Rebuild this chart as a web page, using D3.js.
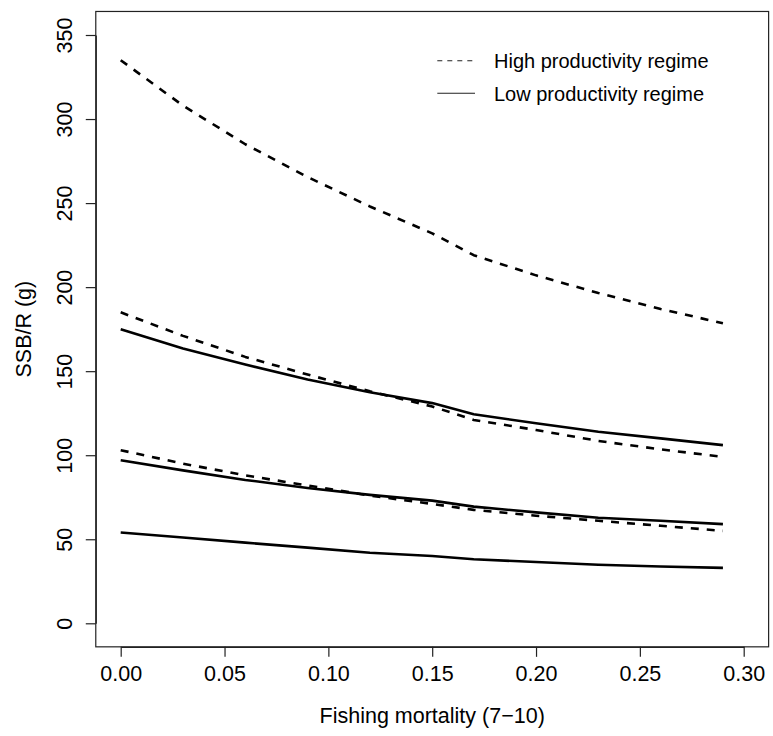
<!DOCTYPE html>
<html>
<head>
<meta charset="utf-8">
<script src="https://cdn.jsdelivr.net/npm/d3@7"></script>
<style>
  html, body { margin: 0; padding: 0; background: #fff; }
  svg { display: block; font-family: "Liberation Sans", Arial, Helvetica, sans-serif; }
</style>
</head>
<body>
<svg id="chart" width="773" height="736"></svg>
<script>
// ---- data ----
const fishingMortality = [0.00, 0.03, 0.06, 0.09, 0.12, 0.15, 0.17, 0.20, 0.23, 0.26, 0.29];
const highA = [335, 308, 285, 265.5, 248, 232, 219, 207, 196.5, 187, 178.5];
const highB = [185, 171, 158.5, 148, 138, 129, 121, 115, 108.5, 103.5, 99];
const highC = [103, 95, 88, 82, 76, 71, 67.5, 64, 61, 58, 55];
const lowA  = [175, 163.5, 154, 145, 137.5, 131, 124.4, 119, 114, 110, 106];
const lowB  = [97, 91, 85.3, 80.5, 76.4, 73, 69.4, 66, 62.8, 61, 59];
const lowC  = [54, 51, 48, 45, 42, 40, 38.1, 36.5, 34.8, 33.8, 33];
const xTicks = [0.00, 0.05, 0.10, 0.15, 0.20, 0.25, 0.30];
const yTicks = [0, 50, 100, 150, 200, 250, 300, 350];
const legendLabels = ["High productivity regime", "Low productivity regime"];
const xTitle = "Fishing mortality (7\u221210)";
const yTitle = "SSB/R (g)";

(function () {
const series = [
  { values: highA, type: "high" },
  { values: highB, type: "high" },
  { values: highC, type: "high" },
  { values: lowA, type: "low" },
  { values: lowB, type: "low" },
  { values: lowC, type: "low" }
];

// ---- scales ----
const x = d3.scaleLinear().domain([0, 0.30]).range([120.7, 743.7]);
const y = d3.scaleLinear().domain([0, 350]).range([623.3, 35]);
const xPad = 0.30 * 0.04, yPad = 350 * 0.04;
const boxL = x(-xPad), boxR = x(0.30 + xPad);
const boxT = y(350 + yPad), boxB = y(-yPad);

const svg = d3.select("#chart");
const ink = "#000";

// box
svg.append("rect")
  .attr("x", boxL).attr("y", boxT)
  .attr("width", boxR - boxL).attr("height", boxB - boxT)
  .attr("fill", "none").attr("stroke", "#222").attr("stroke-width", 1.2);

// x axis
const xAxis = d3.axisBottom(x).tickValues(xTicks).tickFormat(d3.format(".2f"))
  .tickSize(10).tickSizeOuter(0).tickPadding(9);
const gx = svg.append("g").attr("transform", `translate(0,${boxB})`).call(xAxis);
gx.select(".domain").attr("stroke", "#222").attr("stroke-width", 1.2);
gx.selectAll(".tick line").attr("stroke", "#222").attr("stroke-width", 1.2);
gx.selectAll(".tick text").attr("font-size", 21.5).attr("fill", ink)
  .attr("font-family", "Liberation Sans, Arial, sans-serif");

// y axis
const yAxis = d3.axisLeft(y).tickValues(yTicks).tickFormat(d3.format("d"))
  .tickSize(10).tickSizeOuter(0);
const gy = svg.append("g").attr("transform", `translate(${boxL},0)`).call(yAxis);
gy.select(".domain").attr("stroke", "#222").attr("stroke-width", 1.2);
gy.selectAll(".tick line").attr("stroke", "#222").attr("stroke-width", 1.2);
gy.selectAll(".tick text")
  .attr("font-size", 21.5).attr("fill", ink)
  .attr("font-family", "Liberation Sans, Arial, sans-serif")
  .attr("x", null).attr("dy", null)
  .attr("text-anchor", "middle")
  .attr("transform", `translate(${72 - boxL},0) rotate(-90)`);

// axis titles
svg.append("text")
  .attr("x", (boxL + boxR) / 2).attr("y", 723)
  .attr("text-anchor", "middle").attr("font-size", 21.5).attr("fill", ink)
  .text(xTitle);
svg.append("text")
  .attr("transform", `translate(31,${(boxT + boxB) / 2}) rotate(-90)`)
  .attr("text-anchor", "middle").attr("font-size", 21.5).attr("fill", ink)
  .text(yTitle);

// lines
const line = d3.line()
  .x((d, i) => x(fishingMortality[i]))
  .y(d => y(d));

series.forEach(s => {
  svg.append("path")
    .datum(s.values)
    .attr("d", line)
    .attr("fill", "none")
    .attr("stroke", ink)
    .attr("stroke-width", 2.6)
    .attr("stroke-dasharray", s.type === "high" ? "8,8" : null)
    .attr("stroke-linejoin", "round");
});

// legend
const legendRows = [
  { label: legendLabels[0], dash: "5,5", y: 60.7 },
  { label: legendLabels[1], dash: null, y: 93.3 }
];
legendRows.forEach(r => {
  svg.append("line")
    .attr("x1", 437.3).attr("x2", 475)
    .attr("y1", r.y).attr("y2", r.y)
    .attr("stroke", "#222").attr("stroke-width", 1.1)
    .attr("stroke-dasharray", r.dash);
  svg.append("text")
    .attr("x", 494).attr("y", r.y + 7.2)
    .attr("font-size", 20).attr("fill", ink)
    .text(r.label);
});
})();
</script>
</body>
</html>
